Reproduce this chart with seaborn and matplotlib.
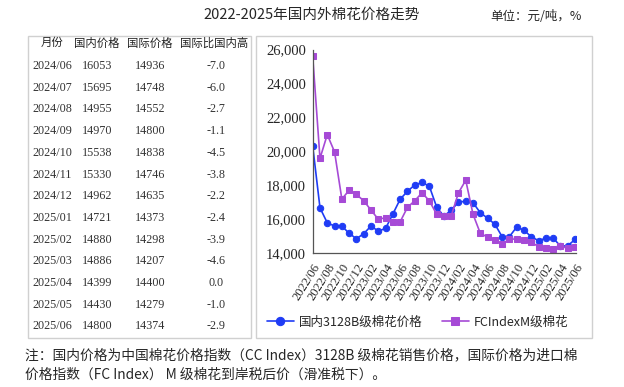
import numpy as np
import pandas as pd
import matplotlib
matplotlib.use('Agg')
import matplotlib.pyplot as plt
from matplotlib.patches import Rectangle
from matplotlib.ticker import FuncFormatter
import seaborn as sns

# 月度数据 2022/06 - 2025/06
months = pd.period_range('2022-06', '2025-06', freq='M').strftime('%Y/%m').tolist()
domestic = [20310, 16660, 15780, 15590, 15590, 15160, 14840, 15140, 15590, 15290,
            15450, 16300, 17170, 17640, 18010, 18160, 17940, 16720, 16160, 16540,
            16980, 17070, 16970, 16370, 16053, 15695, 14955, 14970, 15538, 15330,
            14962, 14721, 14880, 14886, 14399, 14430, 14800]
international = [25600, 19580, 20980, 19960, 17180, 17700, 17450, 17080, 16530, 15990,
                 16080, 15840, 15840, 16690, 17080, 17550, 17080, 16290, 16180, 16180,
                 17550, 18290, 16280, 15160, 14936, 14748, 14552, 14800, 14838, 14746,
                 14635, 14373, 14298, 14207, 14400, 14279, 14374]

# 表格数据
tab_month = ['2024/06', '2024/07', '2024/08', '2024/09', '2024/10', '2024/11', '2024/12',
             '2025/01', '2025/02', '2025/03', '2025/04', '2025/05', '2025/06']
tab_dom = [16053, 15695, 14955, 14970, 15538, 15330, 14962, 14721, 14880, 14886, 14399, 14430, 14800]
tab_int = [14936, 14748, 14552, 14800, 14838, 14746, 14635, 14373, 14298, 14207, 14400, 14279, 14374]
tab_diff = ['-7.0', '-6.0', '-2.7', '-1.1', '-4.5', '-3.8', '-2.2', '-2.4', '-3.9', '-4.6', '0.0', '-1.0', '-2.9']

sns.set_style('white')
plt.rcParams['font.family'] = ['Noto Sans CJK SC', 'DejaVu Sans']
serif = ['Liberation Serif', 'Noto Sans CJK SC']

blue = '#1f3cf5'
purple = '#a64ad6'

df = pd.DataFrame({'idx': np.arange(len(months)), 'month': months,
                   'dom': domestic, 'intl': international})

W, H = 624, 387
fig = plt.figure(figsize=(6.24, 3.87), dpi=100)

def fx(x):
    return x / W

def fy(y):
    return 1 - y / H

# 面板边框
for x0, x1 in [(28, 251), (256, 592)]:
    fig.patches.append(Rectangle((fx(x0), fy(338)), fx(x1 - x0), (338 - 36) / H,
                                 transform=fig.transFigure, fill=False,
                                 edgecolor='#d0d0d0', linewidth=1.0))

# 标题
fig.text(0.5, fy(15), '2022-2025年国内外棉花价格走势', ha='center', va='center', fontsize=10.5)
fig.text(fx(582), fy(17), '单位：元/吨，%', ha='right', va='center', fontsize=9)

# 表格
cols_x = [52, 97, 150, 214]
heads = ['月份', '国内价格', '国际价格', '国际比国内高']
for cx, h in zip(cols_x, heads):
    fig.text(fx(cx), fy(43), h, ha='center', va='center', fontsize=8.2, color='#222222')
for i in range(len(tab_month)):
    y = fy(66 + i * 21.7)
    fig.text(fx(52), y, tab_month[i], ha='center', va='center', fontsize=8.7, family=serif, color='#333333')
    fig.text(fx(97), y, str(tab_dom[i]), ha='center', va='center', fontsize=8.7, family=serif, color='#333333')
    fig.text(fx(150), y, str(tab_int[i]), ha='center', va='center', fontsize=8.7, family=serif, color='#333333')
    fig.text(fx(216), y, tab_diff[i], ha='center', va='center', fontsize=8.7, family=serif, color='#333333')

# 折线图
ax = fig.add_axes([fx(312.7), fy(253), fx(573.3 - 312.7) + 0.004, (253 - 49.5) / H])
sns.lineplot(data=df, x='idx', y='dom', ax=ax, color=blue, marker='o', markersize=4.6,
             markeredgecolor=blue, linewidth=1.2, label='国内3128B级棉花价格')
sns.lineplot(data=df, x='idx', y='intl', ax=ax, color=purple, marker='s', markersize=4.2,
             markeredgecolor=purple, linewidth=1.2, label='FCIndexM级棉花')

ax.set_xlim(0, 36.1)
ax.set_ylim(14000, 26000)
ax.set_yticks(np.arange(14000, 26001, 2000))
ax.yaxis.set_major_formatter(FuncFormatter(lambda v, p: f'{int(v):,}'))
ax.set_xticks(df['idx'][::2])
ax.set_xticklabels(df['month'][::2], rotation=58, ha='right', rotation_mode='anchor',
                   family=serif, fontsize=9)
for t in ax.get_yticklabels():
    t.set_family(serif)
    t.set_fontsize(10.5)
ax.tick_params(axis='both', direction='out', length=4, width=0.8, color='#555555', pad=1)
ax.tick_params(axis='x', pad=2)
ax.set_xlabel('')
ax.set_ylabel('')
for s in ['top', 'right']:
    ax.spines[s].set_visible(False)
for s in ['left', 'bottom']:
    ax.spines[s].set_color('#555555')
    ax.spines[s].set_linewidth(0.9)

ax_h = 253 - 49.5
leg = ax.legend(loc='center left', bbox_to_anchor=((262 - 312.7) / (573.3 - 312.7), -(322 - 253) / ax_h),
                ncol=2, frameon=False, fontsize=9, handlelength=2.2, columnspacing=1.5,
                handletextpad=0.4, borderaxespad=0, markerscale=1.3)

# 注释
fig.text(fx(25), fy(355), '注：国内价格为中国棉花价格指数（CC Index）3128B 级棉花销售价格，国际价格为进口棉',
         ha='left', va='center', fontsize=9.9)
fig.text(fx(25), fy(375), '价格指数（FC Index） M 级棉花到岸税后价（滑准税下）。',
         ha='left', va='center', fontsize=9.9)

fig.savefig('out.png', dpi=100)
